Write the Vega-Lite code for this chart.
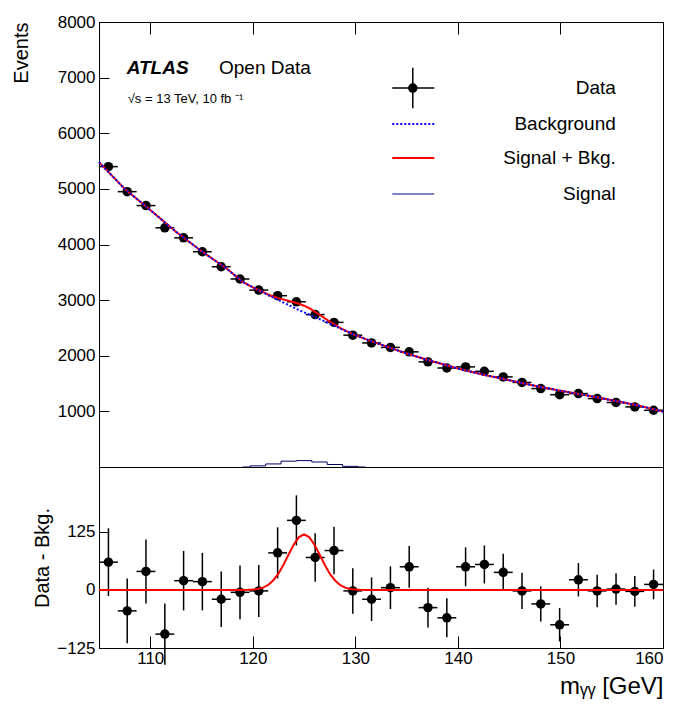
{
"$schema":"https://vega.github.io/schema/vega-lite/v6.json",
"background":"white",
"padding":{"left":10,"top":12,"right":30,"bottom":5},
"bounds":"flush",
"config":{"font":"Liberation Sans","view":{"stroke":"black","strokeWidth":1},"concat":{"spacing":0},
 "axis":{"grid":false,"domainColor":"black","tickColor":"black","labelColor":"black","titleColor":"black","labelFontSize":17,"titleFontSize":20,"titleFontWeight":"normal","tickSize":-10,"labelPadding":14,"format":"d"}},
"spacing":0,
"datasets":{
"pts":[
{"m":105.92,"n":5400,"d":60,"e":73,"hw":0.92},{"m":107.75,"n":4950,"d":-45,"e":70,"hw":0.92},{"m":109.58,"n":4700,"d":40,"e":69,"hw":0.92},{"m":111.42,"n":4300,"d":-95,"e":66,"hw":0.92},{"m":113.25,"n":4120,"d":20,"e":64,"hw":0.92},{"m":115.08,"n":3870,"d":18,"e":62,"hw":0.92},{"m":116.92,"n":3600,"d":-20,"e":60,"hw":0.92},{"m":118.75,"n":3380,"d":-5,"e":58,"hw":0.92},{"m":120.58,"n":3180,"d":-2,"e":56,"hw":0.92},{"m":122.42,"n":3080,"d":80,"e":55,"hw":0.92},{"m":124.25,"n":2970,"d":150,"e":54,"hw":0.92},{"m":126.08,"n":2740,"d":70,"e":52,"hw":0.92},{"m":127.92,"n":2600,"d":85,"e":51,"hw":0.92},{"m":129.75,"n":2370,"d":-2,"e":49,"hw":0.92},{"m":131.58,"n":2230,"d":-20,"e":47,"hw":0.92},{"m":133.42,"n":2150,"d":5,"e":46,"hw":0.92},{"m":135.25,"n":2070,"d":50,"e":45,"hw":0.92},{"m":137.08,"n":1890,"d":-38,"e":43,"hw":0.92},{"m":138.92,"n":1780,"d":-60,"e":42,"hw":0.92},{"m":140.75,"n":1800,"d":50,"e":42,"hw":0.92},{"m":142.58,"n":1720,"d":55,"e":41,"hw":0.92},{"m":144.42,"n":1620,"d":38,"e":40,"hw":0.92},{"m":146.25,"n":1520,"d":-2,"e":39,"hw":0.92},{"m":148.08,"n":1410,"d":-30,"e":38,"hw":0.92},{"m":149.92,"n":1300,"d":-75,"e":36,"hw":0.92},{"m":151.75,"n":1320,"d":22,"e":36,"hw":0.92},{"m":153.58,"n":1230,"d":-2,"e":35,"hw":0.92},{"m":155.42,"n":1160,"d":2,"e":34,"hw":0.92},{"m":157.25,"n":1080,"d":-3,"e":33,"hw":0.92},{"m":159.08,"n":1020,"d":12,"e":32,"hw":0.92}],
"fit":[
{"m":105,"b":5480,"s":0,"sb":5480},{"m":107.5,"b":5000,"s":0,"sb":5000},{"m":110,"b":4620,"s":0,"sb":4620},{"m":112.5,"b":4230,"s":0,"sb":4230},{"m":115,"b":3880,"s":0,"sb":3880},{"m":117.5,"b":3560,"s":0,"sb":3560},
{"m":119,"b":3330,"s":0,"sb":3330},{"m":119.5,"b":3280,"s":0.3,"sb":3280},{"m":120,"b":3230,"s":1,"sb":3231},{"m":120.5,"b":3185,"s":2,"sb":3187},{"m":121,"b":3140,"s":5,"sb":3145},{"m":121.5,"b":3090,"s":11,"sb":3101},{"m":122,"b":3045,"s":21,"sb":3066},{"m":122.5,"b":3000,"s":35,"sb":3035},{"m":123,"b":2955,"s":55,"sb":3010},{"m":123.5,"b":2910,"s":77,"sb":2987},{"m":124,"b":2865,"s":98,"sb":2963},{"m":124.5,"b":2820,"s":114,"sb":2934},{"m":125,"b":2780,"s":120,"sb":2900},{"m":125.5,"b":2740,"s":114,"sb":2854},{"m":126,"b":2700,"s":98,"sb":2798},{"m":126.5,"b":2660,"s":77,"sb":2737},{"m":127,"b":2620,"s":55,"sb":2675},{"m":127.5,"b":2580,"s":35,"sb":2615},{"m":128,"b":2540,"s":21,"sb":2561},{"m":128.5,"b":2490,"s":11,"sb":2501},{"m":129,"b":2450,"s":5,"sb":2455},{"m":129.5,"b":2410,"s":2,"sb":2412},{"m":130,"b":2370,"s":1,"sb":2371},{"m":130.5,"b":2335,"s":0.3,"sb":2335},{"m":131,"b":2300,"s":0,"sb":2300},
{"m":132.5,"b":2200,"s":0,"sb":2200},{"m":135,"b":2040,"s":0,"sb":2040},{"m":137.5,"b":1900,"s":0,"sb":1900},{"m":140,"b":1770,"s":0,"sb":1770},{"m":142.5,"b":1660,"s":0,"sb":1660},{"m":145,"b":1560,"s":0,"sb":1560},{"m":147.5,"b":1460,"s":0,"sb":1460},{"m":150,"b":1370,"s":0,"sb":1370},{"m":152.5,"b":1290,"s":0,"sb":1290},{"m":155,"b":1200,"s":0,"sb":1200},{"m":157.5,"b":1110,"s":0,"sb":1110},{"m":160,"b":995,"s":0,"sb":995}],
"hist":[{"m":119,"h":0},{"m":120.5,"h":20},{"m":122,"h":55},{"m":123.5,"h":105},{"m":125,"h":115},{"m":126.5,"h":90},{"m":128,"h":45},{"m":129.5,"h":12},{"m":131,"h":0}],
"legt":[{"x":155.4,"y":6813,"t":"Data"},{"x":155.4,"y":6166,"t":"Background"},{"x":155.4,"y":5555,"t":"Signal + Bkg."},{"x":155.4,"y":4908,"t":"Signal"}]
},
"vconcat":[
{"width":564,"height":445,
 "layer":[
  {"data":{"name":"hist"},"mark":{"type":"line","interpolate":"step","color":"#000066","strokeWidth":1},"encoding":{"x":{"field":"m","type":"quantitative","scale":{"domain":[105,160],"nice":false,"zero":false},"axis":{"orient":"top","labels":false,"labelPadding":0,"title":null,"values":[110,120,130,140,150,160],"tickSize":-12}},"y":{"field":"h","type":"quantitative","scale":{"domain":[0,8000]},"axis":{"title":"Events","titleAnchor":"end","titleX":-68,"titleY":0,"titleAlign":"right","values":[1000,2000,3000,4000,5000,6000,7000,8000]}}}},
  {"data":{"name":"pts"},"mark":{"type":"errorbar","color":"black","thickness":1.5},"encoding":{"x":{"field":"m","type":"quantitative"},"xError":{"field":"hw"},"y":{"field":"n","type":"quantitative","title":"Events"}}},
  {"data":{"name":"pts"},"mark":{"type":"errorbar","color":"black","thickness":1.5},"encoding":{"y":{"field":"n","type":"quantitative","title":"Events"},"yError":{"field":"e"},"x":{"field":"m","type":"quantitative"}}},
  {"data":{"name":"pts"},"mark":{"type":"circle","color":"black","size":90,"opacity":1},"encoding":{"x":{"field":"m","type":"quantitative"},"y":{"field":"n","type":"quantitative","title":"Events"}}},
  {"data":{"name":"fit"},"mark":{"type":"line","color":"#ff0000","strokeWidth":2},"encoding":{"x":{"field":"m","type":"quantitative"},"y":{"field":"sb","type":"quantitative","title":"Events"}}},
  {"data":{"name":"fit"},"mark":{"type":"line","color":"#0000ff","strokeWidth":2,"strokeDash":[2,2]},"encoding":{"x":{"field":"m","type":"quantitative"},"y":{"field":"b","type":"quantitative","title":"Events"}}},
  {"data":{"values":[{"x1":133.6,"x2":137.7,"y":6166}]},"mark":{"type":"rule","color":"#0000ff","strokeWidth":2,"strokeDash":[2,2]},"encoding":{"x":{"field":"x1","type":"quantitative"},"x2":{"field":"x2"},"y":{"field":"y","type":"quantitative","title":"Events"}}},
  {"data":{"values":[{"x1":133.6,"x2":137.7,"y":5555}]},"mark":{"type":"rule","color":"#ff0000","strokeWidth":2},"encoding":{"x":{"field":"x1","type":"quantitative"},"x2":{"field":"x2"},"y":{"field":"y","type":"quantitative","title":"Events"}}},
  {"data":{"values":[{"x1":133.6,"x2":137.7,"y":4908}]},"mark":{"type":"rule","color":"#000099","strokeWidth":1},"encoding":{"x":{"field":"x1","type":"quantitative"},"x2":{"field":"x2"},"y":{"field":"y","type":"quantitative","title":"Events"}}},
  {"data":{"values":[{"x1":133.6,"x2":137.7,"y":6813,"y1":6450,"y2":7176,"xm":135.6}]},"layer":[
   {"mark":{"type":"rule","color":"black","strokeWidth":1.5},"encoding":{"x":{"field":"x1","type":"quantitative"},"x2":{"field":"x2"},"y":{"field":"y","type":"quantitative","title":"Events"}}},
   {"mark":{"type":"rule","color":"black","strokeWidth":1.5},"encoding":{"x":{"field":"xm","type":"quantitative"},"y":{"field":"y1","type":"quantitative","title":"Events"},"y2":{"field":"y2"}}},
   {"mark":{"type":"circle","color":"black","size":90,"opacity":1},"encoding":{"x":{"field":"xm","type":"quantitative"},"y":{"field":"y","type":"quantitative","title":"Events"}}}]},
  {"data":{"name":"legt"},"mark":{"type":"text","align":"right","baseline":"middle","fontSize":19},"encoding":{"x":{"field":"x","type":"quantitative"},"y":{"field":"y","type":"quantitative","title":"Events"},"text":{"field":"t"}}},
  {"data":{"values":[{"x":107.7,"y":7173,"t":"ATLAS"}]},"mark":{"type":"text","align":"left","baseline":"middle","fontSize":19,"fontWeight":"bold","fontStyle":"italic"},"encoding":{"x":{"field":"x","type":"quantitative"},"y":{"field":"y","type":"quantitative","title":"Events"},"text":{"field":"t"}}},
  {"data":{"values":[{"x":116.7,"y":7173,"t":"Open Data"}]},"mark":{"type":"text","align":"left","baseline":"middle","fontSize":19},"encoding":{"x":{"field":"x","type":"quantitative"},"y":{"field":"y","type":"quantitative","title":"Events"},"text":{"field":"t"}}},
  {"data":{"values":[{"x":107.8,"y":6616,"t":"√s = 13 TeV, 10 fb ⁻¹"}]},"mark":{"type":"text","align":"left","baseline":"middle","fontSize":13},"encoding":{"x":{"field":"x","type":"quantitative"},"y":{"field":"y","type":"quantitative","title":"Events"},"text":{"field":"t"}}}
 ]},
{"width":564,"height":181,
 "layer":[
  {"data":{"name":"pts"},"mark":{"type":"errorbar","color":"black","thickness":1.5},"encoding":{"x":{"field":"m","type":"quantitative","scale":{"domain":[105,160],"nice":false,"zero":false},"axis":{"title":"mᵧᵧ [GeV]","titleAnchor":"end","titleFontSize":24,"titlePadding":8,"values":[110,120,130,140,150,160],"tickSize":-12}},"xError":{"field":"hw"},"y":{"field":"d","type":"quantitative"}}},
  {"data":{"name":"pts"},"mark":{"type":"errorbar","color":"black","thickness":1.5},"encoding":{"y":{"field":"d","type":"quantitative","scale":{"domain":[-125,265],"nice":false,"zero":false},"axis":{"title":"Data - Bkg.","values":[-125,0,125],"titlePadding":4}},"yError":{"field":"e"},"x":{"field":"m","type":"quantitative"}}},
  {"data":{"name":"pts"},"mark":{"type":"circle","color":"black","size":90,"opacity":1},"encoding":{"x":{"field":"m","type":"quantitative"},"y":{"field":"d","type":"quantitative"}}},
  {"data":{"name":"fit"},"mark":{"type":"line","color":"#ff0000","strokeWidth":2},"encoding":{"x":{"field":"m","type":"quantitative"},"y":{"field":"s","type":"quantitative"}}}
 ]}
]}
